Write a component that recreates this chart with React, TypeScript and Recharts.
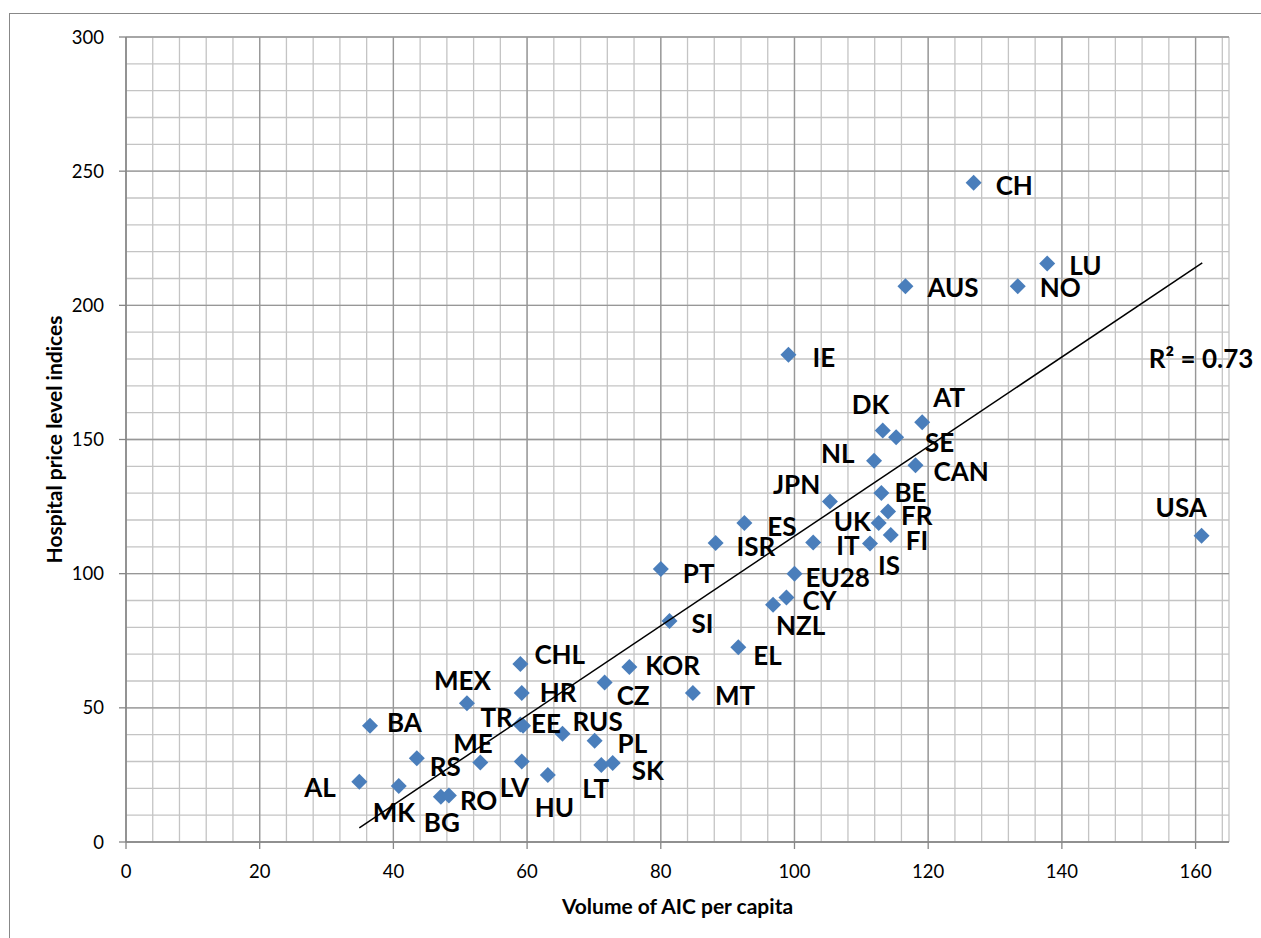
import React from 'react';
import { ScatterChart, Scatter, XAxis, YAxis, ReferenceLine, ReferenceDot } from 'recharts';

const countries = [
  'CH', 'LU', 'NO', 'AUS', 'IE', 'AT', 'DK', 'SE', 'NL', 'CAN', 'JPN', 'BE', 'FR', 'UK', 'FI', 'IT',
  'IS', 'USA', 'ES', 'ISR', 'PT', 'EU28', 'CY', 'NZL', 'SI', 'EL', 'KOR', 'CZ', 'MT', 'CHL', 'HR',
  'MEX', 'TR', 'EE', 'BA', 'RUS', 'PL', 'RS', 'ME', 'LV', 'LT', 'SK', 'HU', 'AL', 'MK', 'BG', 'RO',
];
const volumeAIC = [
  126.8, 137.8, 133.4, 116.6, 99.1, 119.1, 113.2, 115.2, 111.9, 118.1, 105.3, 113.0, 114.0, 112.6, 114.4, 102.8,
  111.3, 160.9, 92.5, 88.2, 80.0, 100.0, 98.8, 96.8, 81.3, 91.6, 75.3, 71.6, 84.8, 59.0, 59.2,
  51.0, 59.0, 59.4, 36.5, 65.3, 70.1, 43.5, 53.0, 59.2, 71.1, 72.8, 63.1, 34.9, 40.8, 47.1, 48.3,
];
const hospitalPLI = [
  245.7, 215.6, 207.1, 207.1, 181.6, 156.4, 153.4, 150.8, 142.1, 140.4, 126.9, 130.1, 123.2, 118.9, 114.4, 111.6,
  111.2, 114.1, 118.9, 111.4, 101.7, 100.0, 91.1, 88.4, 82.4, 72.6, 65.2, 59.4, 55.5, 66.3, 55.5,
  51.7, 43.8, 43.3, 43.3, 40.3, 37.7, 31.2, 29.6, 30.0, 28.7, 29.4, 25.0, 22.5, 20.9, 16.9, 17.3,
];

// linear trend line end points
const trendX = [34.9, 161.0];
const trendY = [5.3, 215.8];
const rSquared = '0.73';

const xTicks = [0, 20, 40, 60, 80, 100, 120, 140, 160];
const yTicks = [0, 50, 100, 150, 200, 250, 300];

// where each data label sits relative to its marker (px)
const labelOffset: Record<string, [number, number]> = {
  CH: [22, 2], LU: [22, 2], NO: [22, 1], AUS: [22, 1], IE: [24, 2], AT: [11, -25], DK: [-31, -26],
  SE: [29, 5], NL: [-53, -8], CAN: [18, 6], JPN: [-57, -17], BE: [13, -1], FR: [13, 4], UK: [-45, -2],
  FI: [15, 5], IT: [23, 2], IS: [8, 21], USA: [-46, -29], ES: [23, 3], ISR: [21, 3], PT: [22, 4],
  EU28: [11, 3], CY: [16, 2], NZL: [3, 20], SI: [22, 2], EL: [15, 8], KOR: [16, -2], CZ: [12, 12],
  MT: [22, 2], CHL: [14, -10], HR: [18, -1], MEX: [-33, -23], TR: [-40, -7], EE: [8, -3], BA: [17, -4],
  RUS: [10, -13], PL: [23, 2], RS: [13, 8], ME: [-27, -20], LV: [-22, 25], LT: [-19, 23], SK: [19, 7],
  HU: [-13, 32], AL: [-55, 5], MK: [-26, 26], BG: [-17, 25], RO: [11, 4],
};

const points = countries.map((name, i) => ({ name, x: volumeAIC[i], y: hospitalPLI[i] }));
const trend = trendX.map((x, i) => ({ x, y: trendY[i] }));

const minorX: number[] = [];
for (let v = 4; v <= 164; v += 4) minorX.push(v);
minorX.push(165);
const minorY: number[] = [];
for (let v = 10; v <= 300; v += 10) minorY.push(v);

const FONT = "Lato, 'Open Sans', sans-serif";
const AXIS = '#868686';

const Diamond = (p: any) => {
  const { cx, cy } = p;
  const r = 8;
  return <path d={`M${cx},${cy - r}L${cx + r},${cy}L${cx},${cy + r}L${cx - r},${cy}Z`} fill="#4A7EBB" />;
};

const PointLabel = (p: any) => {
  const [dx, dy] = labelOffset[p.payload.name] || [12, 0];
  return (
    <text x={p.cx + dx} y={p.cy + dy} dominantBaseline="central" fontFamily={FONT} fontWeight={700}
      fontSize={26} fill="#000">
      {p.payload.name}
    </text>
  );
};

const XTitle = (p: any) => {
  const vb = p.viewBox;
  return (
    <text x={vb.x + vb.width / 2} y={vb.y + 63} textAnchor="middle" dominantBaseline="central"
      fontFamily={FONT} fontWeight={700} fontSize={21} fill="#000">
      Volume of AIC per capita
    </text>
  );
};

const YTitle = (p: any) => {
  const vb = p.viewBox;
  const x = vb.x - 7;
  const y = vb.y + vb.height / 2;
  return (
    <text x={x} y={y} transform={`rotate(-90, ${x}, ${y})`} textAnchor="middle" dominantBaseline="central"
      fontFamily={FONT} fontWeight={700} fontSize={21} fill="#000">
      Hospital price level indices
    </text>
  );
};

const RLabel = (p: any) => (
  <text x={p.cx} y={p.cy} dominantBaseline="central" fontFamily={FONT} fontWeight={700} fontSize={26} fill="#000">
    R² = {rSquared}
  </text>
);

export default function App() {
  return (
    <div style={{ position: 'absolute', left: 0, top: 0, width: 1261, height: 938, overflow: 'hidden', background: '#fff' }}>
      <div style={{ position: 'absolute', left: 9, top: 13, width: 1400, height: 1100, border: '1px solid #888' }} />
      <div style={{ position: 'absolute', left: 0, top: 0 }}>
        <ScatterChart width={1261} height={938} margin={{ top: 37, right: 32, bottom: 56, left: 60 }}>
          {minorX.map((v) => (
            <ReferenceLine key={`mx${v}`} x={v} stroke="#c4c4c4" strokeWidth={1.3} />
          ))}
          {minorY.map((v) => (
            <ReferenceLine key={`my${v}`} y={v} stroke="#c4c4c4" strokeWidth={1.3} />
          ))}
          {xTicks.map((v) => (
            <ReferenceLine key={`Mx${v}`} x={v} stroke="#979797" strokeWidth={1.3} />
          ))}
          {yTicks.map((v) => (
            <ReferenceLine key={`My${v}`} y={v} stroke="#979797" strokeWidth={1.3} />
          ))}
          <XAxis
            type="number"
            dataKey="x"
            domain={[0, 165]}
            ticks={xTicks}
            interval={0}
            height={40}
            tickSize={7}
            tickMargin={16}
            allowDataOverflow
            axisLine={{ stroke: AXIS, strokeWidth: 1.5 }}
            tickLine={{ stroke: AXIS, strokeWidth: 1.3 }}
            tick={{ fontSize: 18.5, fill: '#000', fontFamily: FONT }}
            label={<XTitle />}
          />
          <YAxis
            type="number"
            dataKey="y"
            domain={[0, 300]}
            ticks={yTicks}
            interval={0}
            width={66}
            tickSize={7}
            tickMargin={15}
            allowDataOverflow
            axisLine={{ stroke: AXIS, strokeWidth: 1.5 }}
            tickLine={{ stroke: AXIS, strokeWidth: 1.3 }}
            tick={{ fontSize: 18.5, fill: '#000', fontFamily: FONT }}
            label={<YTitle />}
          />
          <Scatter data={points} shape={<Diamond />} isAnimationActive={false} />
          <Scatter
            data={trend}
            line={{ stroke: '#000', strokeWidth: 1.5 }}
            shape={() => <g />}
            isAnimationActive={false}
          />
          <Scatter data={points} shape={<PointLabel />} isAnimationActive={false} />
          <ReferenceDot x={153} y={180.4} shape={<RLabel />} />
        </ScatterChart>
      </div>
    </div>
  );
}
